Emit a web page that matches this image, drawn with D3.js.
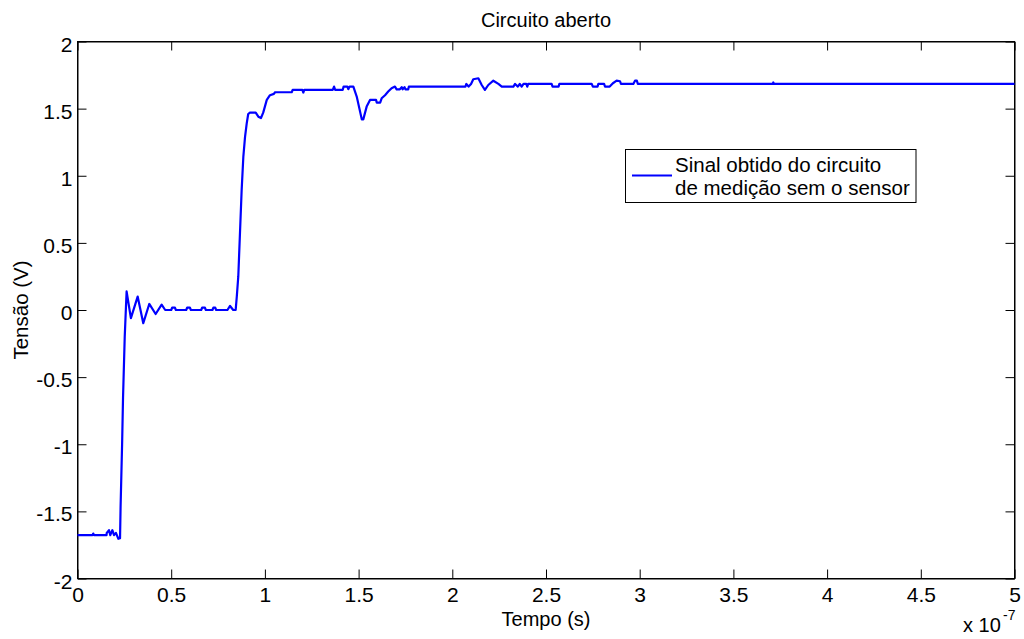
<!DOCTYPE html>
<html>
<head>
<meta charset="utf-8">
<script src="https://cdn.jsdelivr.net/npm/d3@7"></script>
<style>
  html, body { margin: 0; padding: 0; background: #fff; }
  svg { display: block; font-family: "Liberation Sans", Arial, Helvetica, sans-serif; }
</style>
</head>
<body>
<svg id="chart" width="1024" height="639"></svg>
<script>
// Time in units of 1e-7 s, voltage in V
const time = [
  0, 0.08, 0.084, 0.088, 0.155, 0.156, 0.168, 0.175, 0.186, 0.195, 0.205, 0.218, 0.227,
  0.230, 0.238, 0.243, 0.252, 0.262,
  0.285, 0.321, 0.351, 0.383, 0.417, 0.449, 0.468,
  0.50, 0.505, 0.52, 0.525, 0.58, 0.585, 0.60, 0.605, 0.66, 0.665, 0.68, 0.685, 0.72, 0.725, 0.735, 0.74, 0.80, 0.814, 0.831, 0.844,
  0.850, 0.858, 0.867, 0.876, 0.885, 0.894, 0.903, 0.911, 0.920, 0.951, 0.965, 0.979, 0.991, 1.010, 1.027, 1.048, 1.054,
  1.143, 1.148, 1.20, 1.205, 1.21, 1.362, 1.369, 1.375, 1.415, 1.42, 1.44, 1.445, 1.452, 1.472,
  1.49, 1.517, 1.525, 1.543, 1.561, 1.593, 1.597, 1.615, 1.623, 1.641, 1.658, 1.676, 1.694, 1.703,
  1.72, 1.73, 1.735, 1.745, 1.75, 1.765, 1.768,
  2.07, 2.075, 2.087, 2.10, 2.112, 2.139, 2.157, 2.174, 2.192, 2.219, 2.246, 2.264, 2.326,
  2.335, 2.35, 2.36, 2.37, 2.38, 2.395, 2.40, 2.405,
  2.53, 2.535, 2.567, 2.571, 2.744, 2.75, 2.775, 2.779, 2.81, 2.815, 2.84, 2.857, 2.877, 2.895, 2.90,
  2.966, 2.975, 2.985, 2.99, 3.71, 3.713, 3.716, 5
];
const voltage = [
  -1.677, -1.677, -1.665, -1.677, -1.677, -1.66, -1.64, -1.677, -1.64, -1.677, -1.66, -1.704, -1.70,
  -1.46, -1.0, -0.65, -0.2, 0.138,
  -0.06, 0.10, -0.098, 0.045, -0.03, 0.04, 0.0,
  0.0, 0.017, 0.017, 0.0, 0.0, 0.017, 0.017, 0.0, 0.0, 0.017, 0.017, 0.0, 0.0, 0.017, 0.017, 0.0, 0.0, 0.03, 0.0, 0.0,
  0.10, 0.25, 0.573, 0.895, 1.143, 1.29, 1.39, 1.46, 1.47, 1.47, 1.44, 1.43, 1.47, 1.565, 1.60, 1.61, 1.622,
  1.622, 1.639, 1.639, 1.62, 1.639, 1.639, 1.664, 1.639, 1.639, 1.664, 1.664, 1.645, 1.664, 1.664,
  1.59, 1.42, 1.42, 1.515, 1.565, 1.565, 1.545, 1.545, 1.577, 1.60, 1.627, 1.652, 1.664, 1.644,
  1.644, 1.66, 1.644, 1.66, 1.644, 1.644, 1.664,
  1.664, 1.684, 1.664, 1.684, 1.719, 1.726, 1.676, 1.639, 1.676, 1.708, 1.684, 1.664, 1.664,
  1.684, 1.664, 1.684, 1.664, 1.684, 1.684, 1.664, 1.684,
  1.684, 1.664, 1.664, 1.684, 1.684, 1.664, 1.664, 1.684, 1.684, 1.664, 1.664, 1.689, 1.708, 1.704, 1.684,
  1.684, 1.708, 1.708, 1.684, 1.684, 1.695, 1.684, 1.684
];
const xTicks = [0, 0.5, 1, 1.5, 2, 2.5, 3, 3.5, 4, 4.5, 5];
const yTicks = [-2, -1.5, -1, -0.5, 0, 0.5, 1, 1.5, 2];
const titleText = "Circuito aberto";
const xLabel = "Tempo (s)";
const yLabel = "Tensão (V)";
const legendLines = ["Sinal obtido do circuito", "de medição sem o sensor"];

const svg = d3.select("#chart");
const L = 77.5, R = 1014.5, T = 41.5, B = 578.5;
const x = d3.scaleLinear().domain([0, 5]).range([L, R]);
const y = d3.scaleLinear().domain([-2, 2]).range([B, T]);
const fmt = v => String(v).replace("\u2212", "-");
const tickLen = 9;

// Frame
svg.append("rect").attr("x", L).attr("y", T).attr("width", R - L).attr("height", B - T)
  .attr("fill", "none").attr("stroke", "#000").attr("stroke-width", 1);

// Axes with inward ticks
const axB = d3.axisBottom(x).tickValues(xTicks).tickSizeInner(-tickLen).tickSizeOuter(0).tickFormat(fmt);
const gB = svg.append("g").attr("transform", `translate(0,${B})`).call(axB);
const axT = d3.axisTop(x).tickValues(xTicks).tickSizeInner(-tickLen).tickSizeOuter(0).tickFormat("");
const gT = svg.append("g").attr("transform", `translate(0,${T})`).call(axT);
const axL = d3.axisLeft(y).tickValues(yTicks).tickSizeInner(-tickLen).tickSizeOuter(0).tickFormat(fmt);
const gL = svg.append("g").attr("transform", `translate(${L},0)`).call(axL);
const axR = d3.axisRight(y).tickValues(yTicks).tickSizeInner(-tickLen).tickSizeOuter(0).tickFormat("");
const gR = svg.append("g").attr("transform", `translate(${R},0)`).call(axR);

[gB, gT, gL, gR].forEach(g => {
  g.select(".domain").attr("stroke", "#000");
  g.selectAll(".tick line").attr("stroke", "#000");
  g.selectAll(".tick text").attr("fill", "#000").attr("font-size", 21)
    .attr("font-family", "'Liberation Sans', Arial, sans-serif");
});
gB.selectAll(".tick text").attr("dy", null).attr("y", 23);
gL.selectAll(".tick text").attr("dy", null).attr("y", 9.5).attr("x", -5);

// Data line
const pts = time.map((t, i) => [t, voltage[i]]);
svg.append("path").datum(pts)
  .attr("fill", "none").attr("stroke", "#0000ff").attr("stroke-width", 2.2)
  .attr("stroke-linejoin", "round")
  .attr("d", d3.line().x(d => x(d[0])).y(d => y(d[1])));

// Title and labels
svg.append("text").attr("x", 546).attr("y", 27).attr("text-anchor", "middle")
  .attr("font-size", 20).text(titleText);
svg.append("text").attr("x", 546).attr("y", 625.5).attr("text-anchor", "middle")
  .attr("font-size", 20).text(xLabel);
svg.append("text").attr("transform", "translate(28,310) rotate(-90)").attr("text-anchor", "middle")
  .attr("font-size", 20.5).text(yLabel);

// Exponent
svg.append("text").attr("x", 963).attr("y", 632).attr("font-size", 20).text("x 10");
svg.append("text").attr("x", 1003).attr("y", 620).attr("font-size", 14).text("-7");

// Legend
const lg = svg.append("g");
lg.append("rect").attr("x", 625.5).attr("y", 149.5).attr("width", 290.5).attr("height", 53)
  .attr("fill", "#fff").attr("stroke", "#000").attr("stroke-width", 1);
lg.append("line").attr("x1", 632).attr("x2", 672).attr("y1", 175.5).attr("y2", 175.5)
  .attr("stroke", "#0000ff").attr("stroke-width", 2);
legendLines.forEach((s, i) => {
  lg.append("text").attr("x", 675).attr("y", 171.5 + i * 23).attr("font-size", 20.5).text(s);
});
</script>
</body>
</html>
